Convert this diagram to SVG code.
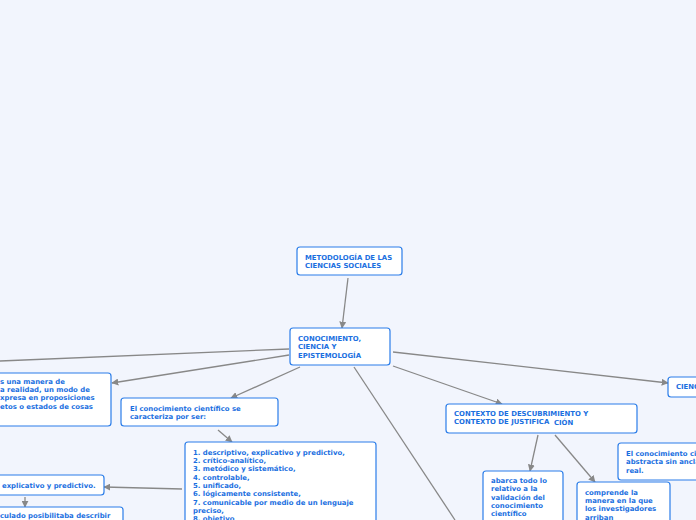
<svg xmlns="http://www.w3.org/2000/svg" width="696" height="520" viewBox="0 0 696 520">
<defs>
<style>
.n{fill:#fff;stroke:#2b7de9;stroke-width:1.2}
.t{font-family:"DejaVu Sans",sans-serif;font-weight:bold;font-size:6.9px;fill:#1a6fdf}
.c{stroke:#888;stroke-width:1.3;fill:none;marker-end:url(#a)}
</style>
<marker id="a" viewBox="0 0 10 10" refX="9" refY="5" markerWidth="7" markerHeight="7" orient="auto" markerUnits="userSpaceOnUse"><path d="M0,0L10,5L0,10z" fill="#888"/></marker>
</defs>
<rect width="696" height="520" fill="#f2f5fd"/>
<g id="connectors">
<path class="c" d="M348,278L342,328"/>
<path d="M289,349L0,361" stroke="#888" stroke-width="1.3"/>
<path class="c" d="M289,355L112,383"/>
<path class="c" d="M300,367L231,398"/>
<path class="c" d="M393,352L668,383"/>
<path class="c" d="M393,366L502,404"/>
<path d="M354,367L455,520" stroke="#888" stroke-width="1.3"/>
<path class="c" d="M218,430L232,442"/>
<path class="c" d="M182,489L104,487"/>
<path class="c" d="M25,497L25,507"/>
<path class="c" d="M538,435L530,471"/>
<path class="c" d="M555,435L595,482"/>
</g>
<g id="n1"><rect class="n" x="297" y="247" width="105" height="28" rx="3"/><text class="t" x="305" y="260">METODOLOGÍA DE LAS</text><text class="t" x="305" y="268">CIENCIAS SOCIALES</text></g>
<g id="n2"><rect class="n" x="290" y="328" width="100" height="37" rx="3"/><text class="t" x="298" y="341">CONOCIMIENTO,</text><text class="t" x="298" y="349">CIENCIA Y</text><text class="t" x="298" y="358">EPISTEMOLOGÍA</text></g>
<g id="n3"><rect class="n" x="-10" y="373" width="121" height="53" rx="3"/><text class="t" x="0" y="384">s una manera de</text><text class="t" x="0" y="392">a realidad, un modo de</text><text class="t" x="0" y="400">xpresa en proposiciones</text><text class="t" x="0" y="409">etos o estados de cosas</text></g>
<g id="n4"><rect class="n" x="121" y="398" width="157" height="28" rx="3"/><text class="t" x="130" y="411">El conocimiento científico se</text><text class="t" x="130" y="419">caracteriza por ser:</text></g>
<g id="n5"><rect class="n" x="185" y="442" width="191" height="90" rx="3"/><text class="t" x="193" y="455">1. descriptivo, explicativo y predictivo,</text><text class="t" x="193" y="463">2. crítico-analítico,</text><text class="t" x="193" y="471">3. metódico y sistemático,</text><text class="t" x="193" y="480">4. controlable,</text><text class="t" x="193" y="488">5. unificado,</text><text class="t" x="193" y="496">6. lógicamente consistente,</text><text class="t" x="193" y="505">7. comunicable por medio de un lenguaje</text><text class="t" x="193" y="513">preciso,</text><text class="t" x="193" y="521">8. objetivo</text></g>
<g id="n6"><rect class="n" x="-10" y="475" width="114" height="20" rx="3"/><text class="t" x="2" y="488">explicativo y predictivo.</text></g>
<g id="n7"><rect class="n" x="-10" y="507" width="133" height="30" rx="3"/><text class="t" x="0" y="518">culado posibilitaba describir</text></g>
<g id="n8"><rect class="n" x="668" y="377" width="40" height="20" rx="3"/><text class="t" x="676" y="389">CIENCIA</text></g>
<g id="n9"><rect class="n" x="446" y="404" width="191" height="29" rx="3"/><text class="t" x="454" y="416">CONTEXTO DE DESCUBRIMIENTO Y</text><text class="t" x="454" y="424">CONTEXTO DE JUSTIFICA</text><text class="t" x="554" y="425">CIÓN</text></g>
<g id="n10"><rect class="n" x="618" y="443" width="90" height="37" rx="3"/><text class="t" x="626" y="456">El conocimiento científico</text><text class="t" x="626" y="464">abstracta sin anclaje</text><text class="t" x="626" y="473">real.</text></g>
<g id="n11"><rect class="n" x="483" y="471" width="80" height="60" rx="3"/><text class="t" x="491" y="483">abarca todo lo</text><text class="t" x="491" y="491">relativo a la</text><text class="t" x="491" y="500">validación del</text><text class="t" x="491" y="508">conocimiento</text><text class="t" x="491" y="516">científico</text></g>
<g id="n12"><rect class="n" x="577" y="482" width="93" height="50" rx="3"/><text class="t" x="585" y="495">comprende la</text><text class="t" x="585" y="503">manera en la que</text><text class="t" x="585" y="511">los investigadores</text><text class="t" x="585" y="520">arriban</text></g>
</svg>
